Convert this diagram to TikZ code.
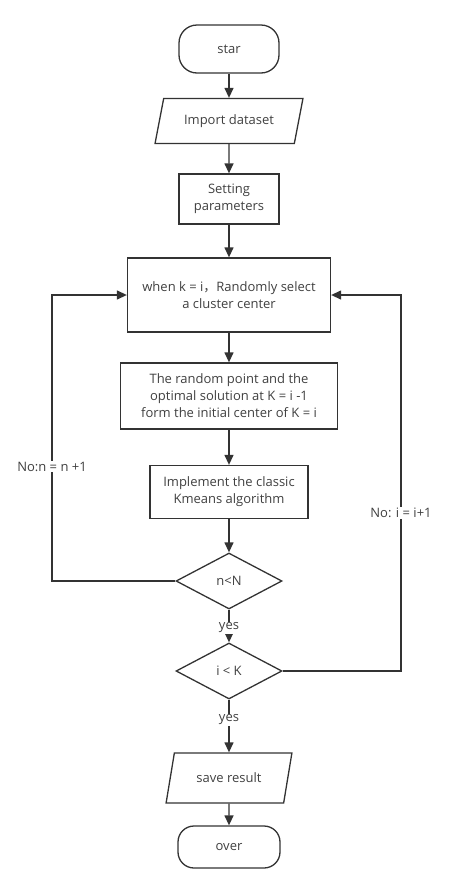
\documentclass[tikz,border=0pt]{standalone}
\usepackage{fontspec}
\setmainfont{Open Sans}
\newfontfamily\cjk{Noto Sans CJK SC}
\usetikzlibrary{shapes.geometric,arrows.meta}
\definecolor{linegray}{HTML}{333333}
\definecolor{textgray}{HTML}{404040}

\tikzstyle{startstop} = [draw, rectangle, rounded corners=18pt, minimum width=100pt, minimum height=48pt]
\tikzstyle{io} = [draw, trapezium, trapezium left angle=72, trapezium right angle=108, trapezium stretches=true, minimum height=45pt]
\tikzstyle{block} = [draw, rectangle, align=center]
\tikzstyle{decision} = [draw, diamond, aspect=1.9, minimum width=106pt, minimum height=56pt, inner sep=1pt]
\tikzstyle{lbl} = [fill=white, inner sep=1pt]

\begin{document}
\begin{tikzpicture}[node distance=1cm, >={Triangle[length=10pt,width=9pt]}, color=linegray, line width=1.3pt,
  every node/.append style={text=textgray, font=\fontsize{13}{17}\selectfont}]
  \useasboundingbox (0,0) rectangle (451pt,-892pt);
  \node [startstop] (start) at (229pt,-49pt) {star};
  \node [io, below of=start, node distance=72pt, minimum width=148pt] (import) {Import dataset};
  \node [block, below of=import, node distance=78pt, minimum width=100pt, minimum height=50pt] (param) {Setting\\parameters};
  \node [block, below of=param, node distance=96pt, minimum width=203pt, minimum height=74pt] (select) {when k = i{\cjk ，}Randomly select\\a cluster center};
  \node [block, below of=select, node distance=101pt, minimum width=217pt, minimum height=66pt] (init) {The random point and the\\optimal solution at K = i -1\\form the initial center of K = i};
  \node [block, below of=init, node distance=96pt, minimum width=158pt, minimum height=53pt] (kmeans) {Implement the classic\\Kmeans algorithm};
  \node [decision, below of=kmeans, node distance=89pt] (nN) {n<N};
  \node [decision, below of=nN, node distance=90pt] (iK) {i < K};
  \node [io, below of=iK, node distance=107pt, minimum width=126pt, minimum height=50pt] (save) {save result};
  \node [startstop, below of=save, node distance=69pt, minimum width=102pt, minimum height=42pt, rounded corners=16pt] (over) {over};
  \node [coordinate, left of=nN, node distance=177pt] (lft) {};
  \node [coordinate, right of=iK, node distance=172pt] (rgt) {};

  \draw [->] (start) -- (import);
  \draw [->] (import) -- (param);
  \draw [->] (param) -- (select);
  \draw [->] (select) -- (init);
  \draw [->] (init) -- (kmeans);
  \draw [->] (kmeans) -- (nN);
  \draw [->] (nN) -- node[lbl, pos=0.56] {yes} (iK);
  \draw [->] (iK) -- node[lbl, pos=0.38] {yes} (save);
  \draw [->] (save) -- (over);
  \draw [->] (nN.west) -- (lft) |- node[lbl, pos=0.2] {No:n = n +1} (select.west);
  \draw [->] (iK.east) -- (rgt) |- node[lbl, pos=0.21] {No: i = i+1} (select.east);
\end{tikzpicture}
\end{document}
